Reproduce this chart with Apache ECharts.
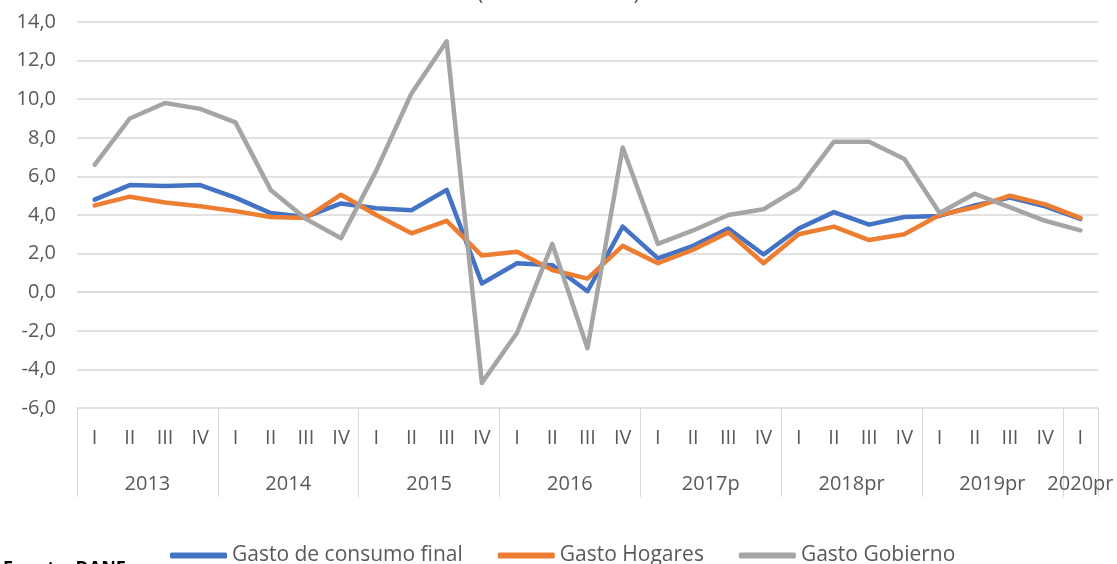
<!doctype html>
<html lang="es">
<head>
    <meta charset="UTF-8">
    <title>Gasto de consumo final</title>
    <script src="https://cdn.jsdelivr.net/npm/echarts@6/dist/echarts.min.js"></script>
    <style>
        html, body { margin: 0; padding: 0; background: #fff; }
        #main { width: 1117px; height: 564px; }
    </style>
</head>
<body>
<div id="main"></div>
<script>
    // trimestres y años del eje x
    var quarters = ['I', 'II', 'III', 'IV', 'I', 'II', 'III', 'IV', 'I', 'II', 'III', 'IV',
        'I', 'II', 'III', 'IV', 'I', 'II', 'III', 'IV', 'I', 'II', 'III', 'IV',
        'I', 'II', 'III', 'IV', 'I'];
    var years = ['2013', '2014', '2015', '2016', '2017p', '2018pr', '2019pr', '2020pr'];

    // variación anual (%)
    var consumoFinal = [4.8, 5.55, 5.5, 5.55, 4.9, 4.1, 3.9, 4.6, 4.35, 4.25, 5.3, 0.45,
        1.5, 1.4, 0.05, 3.4, 1.75, 2.4, 3.3, 1.95, 3.3, 4.15, 3.5, 3.9,
        3.95, 4.5, 4.9, 4.45, 3.8];
    var hogares = [4.5, 4.95, 4.65, 4.45, 4.2, 3.9, 3.85, 5.05, 4.0, 3.05, 3.7, 1.9,
        2.1, 1.15, 0.7, 2.4, 1.5, 2.2, 3.1, 1.5, 3.0, 3.4, 2.7, 3.0,
        4.0, 4.4, 5.0, 4.55, 3.85];
    var gobierno = [6.6, 9.0, 9.8, 9.5, 8.8, 5.3, 3.8, 2.8, 6.3, 10.3, 13.0, -4.7,
        -2.1, 2.5, -2.9, 7.5, 2.5, 3.2, 4.0, 4.3, 5.4, 7.8, 7.8, 6.9,
        4.1, 5.1, 4.4, 3.7, 3.2];

    // límites de cada año (donde empieza un trimestre I) y centros de las etiquetas
    var bounds = [];
    quarters.forEach(function (q, i) { if (q === 'I') bounds.push(i); });
    bounds.push(quarters.length);
    var centers = [];
    for (var k = 0; k < bounds.length - 1; k++) {
        centers.push((bounds[k] + bounds[k + 1]) / 2);
    }

    var font = 'Open Sans';
    var gridColor = '#d9d9d9';
    var textColor = '#595959';

    var myChart = echarts.init(document.getElementById('main'));
    var option = {
        backgroundColor: '#fff',
        animation: false,
        color: ['#4472C4', '#ED7D31', '#A5A5A5'],
        title: {
            text: '(Variación anual)',
            left: 'center',
            top: -21,
            textStyle: {color: textColor, fontFamily: font, fontSize: 21, fontWeight: 'normal'}
        },
        grid: {left: 77, right: 19, top: 22, bottom: 156},
        legend: {
            left: 165,
            top: 540,
            icon: 'roundRect',
            itemWidth: 57,
            itemHeight: 6,
            itemGap: 35,
            textStyle: {color: textColor, fontFamily: font, fontSize: 21}
        },
        graphic: [{
            type: 'text',
            left: 3,
            top: 560,
            style: {text: 'Fuente: DANE', fill: '#000', font: 'bold 18px "Open Sans"'}
        }],
        xAxis: [{
            type: 'category',
            data: quarters,
            boundaryGap: true,
            axisLine: {lineStyle: {color: gridColor}},
            axisTick: {show: false},
            axisLabel: {color: textColor, fontFamily: font, fontSize: 20, margin: 20, interval: 0}
        }, {
            type: 'value',
            min: 0,
            max: quarters.length,
            position: 'bottom',
            axisLine: {show: false},
            splitLine: {show: false},
            axisTick: {
                show: true,
                customValues: bounds,
                length: 89,
                lineStyle: {color: gridColor}
            },
            axisLabel: {
                customValues: centers,
                margin: 66,
                color: textColor,
                fontFamily: font,
                fontSize: 20,
                formatter: function (v) {
                    return years[centers.indexOf(v)];
                }
            }
        }],
        yAxis: {
            type: 'value',
            min: -6,
            max: 14,
            interval: 2,
            axisLine: {show: false},
            axisTick: {show: false},
            splitLine: {lineStyle: {color: gridColor, width: 1.5}},
            axisLabel: {
                color: textColor,
                fontFamily: font,
                fontSize: 20,
                margin: 21,
                formatter: function (v) { return v.toFixed(1).replace('.', ','); }
            }
        },
        series: [{
            name: 'Gasto de consumo final',
            type: 'line',
            data: consumoFinal,
            showSymbol: false,
            lineStyle: {width: 4.5, cap: 'round', join: 'round'}
        }, {
            name: 'Gasto Hogares',
            type: 'line',
            data: hogares,
            showSymbol: false,
            lineStyle: {width: 4.5, cap: 'round', join: 'round'}
        }, {
            name: 'Gasto Gobierno',
            type: 'line',
            data: gobierno,
            showSymbol: false,
            lineStyle: {width: 4.5, cap: 'round', join: 'round'}
        }]
    };
    myChart.setOption(option);
</script>
</body>
</html>
